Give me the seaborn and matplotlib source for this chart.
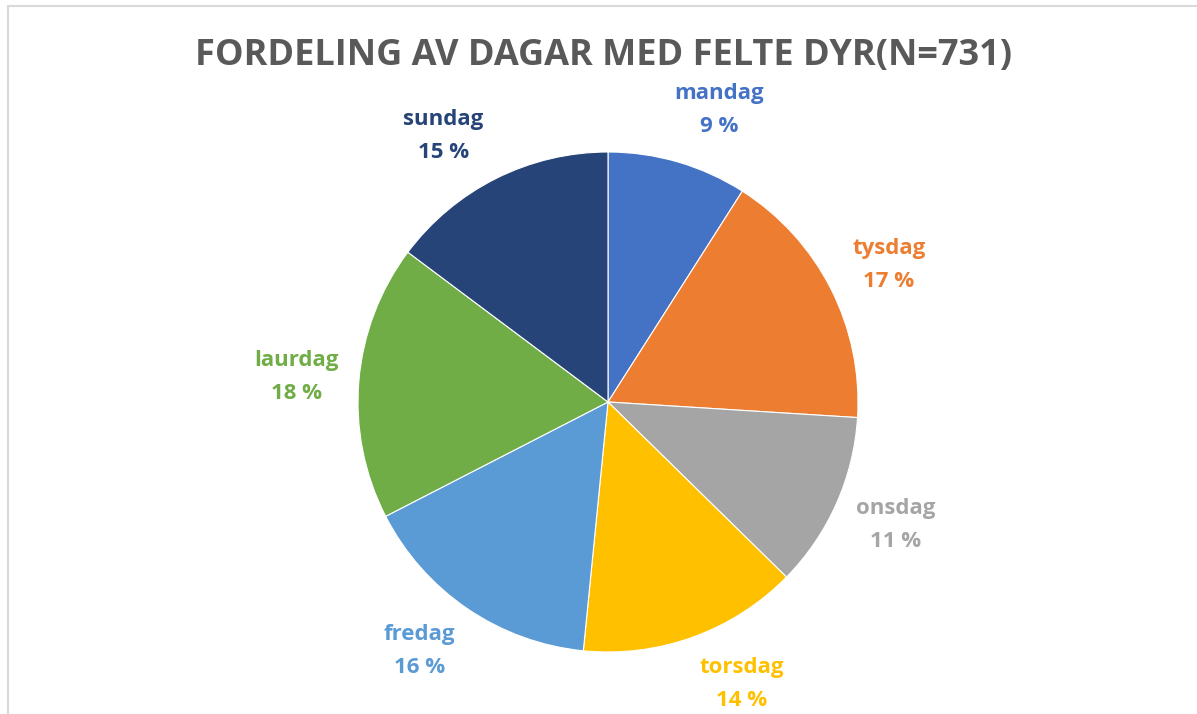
import numpy as np
import matplotlib
matplotlib.use("Agg")
import matplotlib.pyplot as plt
import seaborn as sns
from matplotlib.lines import Line2D

# Dagar og tal på felte dyr (sum = 731)
dagar = ['mandag', 'tysdag', 'onsdag', 'torsdag', 'fredag', 'laurdag', 'sundag']
antal = [66, 124, 83, 104, 116, 130, 108]
fargar = ['#4472C4', '#ED7D31', '#A5A5A5', '#FFC000', '#5B9BD5', '#70AD47', '#264478']
tittel = 'FORDELING AV DAGAR MED FELTE DYR(N=731)'

# små justeringar av etikettplassering (grader, med klokka)
etikett_skyv = [4.5, 1.0, -0.9, -5.4, 2.9, -0.2, -5.2]

sns.set_theme(style='white')
plt.rcParams['font.family'] = ['Open Sans', 'DejaVu Sans']

fig = plt.figure(figsize=(11.97, 7.14), dpi=100)
fig.patch.set_facecolor('white')

# kvadratisk akse, sentrum (608, 402) px, radius 250 px
W, H = 1197, 714
cx, cy, r = 608, 402, 250
ax = fig.add_axes([(cx - r) / W, (H - cy - r) / H, 2 * r / W, 2 * r / H])

wedges, _ = ax.pie(antal, colors=fargar, startangle=90, counterclock=False,
                   radius=1, wedgeprops=dict(linewidth=0.8, edgecolor='white'))
ax.set_xlim(-1, 1)
ax.set_ylim(-1, 1)
ax.axis('off')

total = sum(antal)
for w, dag, n, farge, skyv in zip(wedges, dagar, antal, fargar, etikett_skyv):
    mid = np.deg2rad((w.theta1 + w.theta2) / 2 - skyv)
    x, y = 1.25 * np.cos(mid), 1.25 * np.sin(mid)
    ax.text(x, y, f'{dag}\n{round(100 * n / total)} %', ha='center', va='center',
            color=farge, fontsize=16, fontweight='bold', linespacing=1.75)

fig.text(603.5 / W, 1 - 65 / H, tittel, ha='center', va='baseline', color='#595959',
         fontsize=26, fontweight='bold')

# ramme (venstre og topp)
fig.add_artist(Line2D([7.5 / W, 7.5 / W], [0, 1 - 5.5 / H], color='#D9D9D9', lw=1.5))
fig.add_artist(Line2D([7.5 / W, 1], [1 - 5.5 / H, 1 - 5.5 / H], color='#D9D9D9', lw=1.5))

fig.savefig('out.png', dpi=100, facecolor='white')
